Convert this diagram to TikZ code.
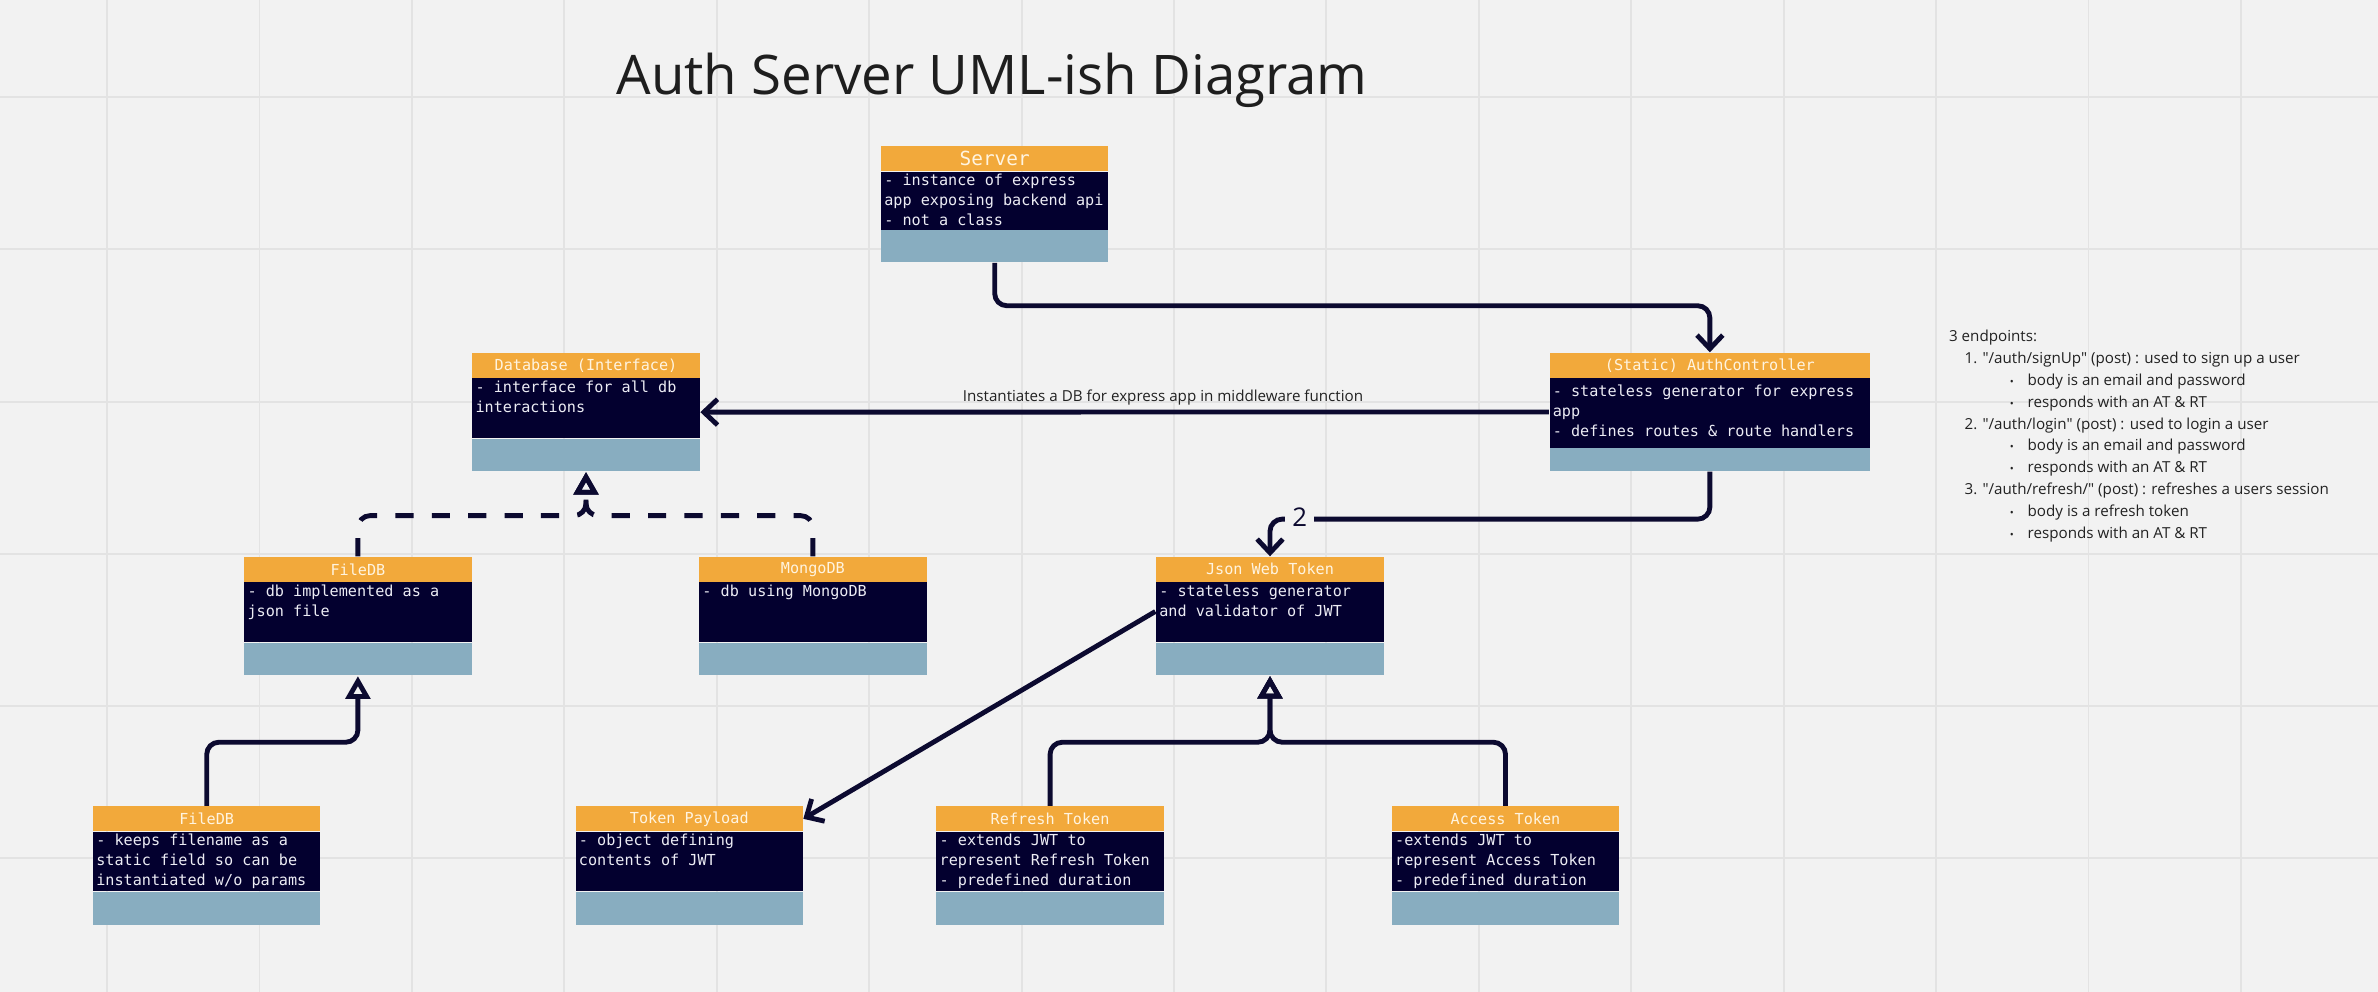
\documentclass[tikz,border=0pt]{standalone}
\usepackage{fontspec}
\setmainfont{Open Sans}
\newfontfamily\epfont{Open Sans}
\newfontfamily\monof{DejaVu Sans Mono}
\usetikzlibrary{arrows.meta,calc,fit}
\definecolor{bgc}{HTML}{F2F2F2}
\definecolor{gridc}{HTML}{E3E3E3}
\definecolor{hdc}{HTML}{F2A93B}
\definecolor{bdc}{HTML}{03002F}
\definecolor{ftc}{HTML}{88ADC0}
\definecolor{lnc}{HTML}{0C0A30}
\definecolor{hdtext}{HTML}{FFF4E0}
\definecolor{bdtext}{HTML}{ECECF4}
\definecolor{txtc}{HTML}{222222}
\definecolor{titc}{HTML}{1E1E1E}
\tikzset{
  hd/.style={fill=hdc, inner sep=0pt, text=hdtext, font=\monof\fontsize{10}{12}\selectfont, anchor=north west, minimum height=16.4pt},
  bd/.style={fill=bdc, inner sep=0pt, anchor=north west},
  ft/.style={fill=ftc, inner sep=0pt, anchor=north west},
  btxt/.style={inner sep=0pt, anchor=north west, align=left, text=bdtext, font=\monof\fontsize{10}{13.2}\selectfont},
  conn/.style={draw=lnc, line width=3.2pt, rounded corners=8pt},
  barb/.style={-{Straight Barb[length=9pt,width=17pt]}},
  tri/.style={-{Triangle[open,length=15pt,width=16pt]}},
  gridl/.style={draw=gridc, line width=1.3pt},
  plain/.style={inner sep=0pt, text=txtc}
}
% #1 name, #2 left, #3 top, #4 width, #5 body h, #6 footer h, #7 text offset, #8 title, #9 body
\newcommand\umlbox[9]{%
  \node[hd, minimum width=#4pt] (#1-h) at (#2,#3) {#8};
  \node[bd, minimum width=#4pt, minimum height=#5pt] (#1-b) at (#1-h.south west) {};
  \node[ft, minimum width=#4pt, minimum height=#6pt] (#1-f) at (#1-b.south west) {};
  \node[btxt] (#1-t) at ($(#1-b.north west)+(2.2,#7)$) {\strut #9};
  \node[fit=(#1-h)(#1-f), inner sep=0pt] (#1) {};
}
\newcommand\mybul{\makebox[11.8pt][l]{\fontsize{7}{7}\selectfont •}}
\begin{document}
\begin{tikzpicture}[x=1pt,y=-1pt]
\useasboundingbox (0,0) rectangle (1568,654);
\fill[bgc] (0,0) rectangle (1568,654);
\foreach \i in {0,...,14} \draw[gridl] ({70.6+100.5*\i},0) -- ({70.6+100.5*\i},654);
\foreach \j in {0,...,5} \draw[gridl] (0,{64+100.4*\j}) -- (1568,{64+100.4*\j});

\node[anchor=base west, inner sep=0pt, font=\fontsize{36}{36}\selectfont, text=titc] (title) at (406.3,62.6) {Auth Server UML-ish Diagram};

\umlbox{srv}{580.7}{96.3}{150}{38.2}{21}{0}{{\fontsize{12.8}{14}\selectfont Server}}{- instance of express\\app exposing backend api\\- not a class}
\umlbox{db}{311.2}{232.5}{150}{39.6}{21.3}{0}{Database (Interface)}{- interface for all db\\interactions}
\umlbox{ac}{1021.5}{232.5}{211.5}{45.7}{15}{3}{(Static) AuthController}{- stateless generator for express\\app\\- defines routes \& route handlers}
\umlbox{fm}{160.8}{367}{150}{39.6}{21.4}{0}{FileDB}{- db implemented as a\\json file}
\umlbox{mg}{460.8}{367}{150}{39.6}{21.4}{0}{MongoDB}{- db using MongoDB}
\umlbox{jwt}{762}{367}{150.4}{39.6}{21.2}{0}{Json Web Token}{- stateless generator\\and validator of JWT}
\umlbox{fb}{61.1}{531.5}{150}{39.3}{21.5}{0}{FileDB}{- keeps filename as a\\static field so can be\\instantiated w/o params}
\umlbox{tp}{379.3}{531.5}{150}{39.3}{21.5}{0}{Token Payload}{- object defining\\contents of JWT}
\umlbox{rt}{617.2}{531.5}{150}{39.3}{21.5}{0}{Refresh Token}{- extends JWT to\\represent Refresh Token\\- predefined duration}
\umlbox{at}{917.5}{531.5}{150}{39.3}{21.5}{0}{Access Token}{-extends JWT to\\represent Access Token\\- predefined duration}

% junction coordinates
\coordinate (sa) at ($(ac.north)+(0,-30.7)$);
\coordinate (aj) at ($(ac.south)+(0,31.3)$);
\coordinate (dj) at ($(db.south)+(0,28.8)$);
\coordinate (fj) at ($(fm.south)+(0,43.6)$);
\coordinate (jj) at ($(jwt.south)+(0,43.8)$);

% connectors
\draw[conn, barb] (srv.south) |- (sa) -- (ac.north);
\draw[conn, barb] (ac.west) -- (db.east);
\draw[conn, barb] (ac.south) |- (jwt.north |- aj) -- (jwt.north);
\node[fill=bgc, inner sep=4.7pt, font=\fontsize{17}{17}\selectfont, text=lnc] (two) at (857,340.7) {2};
\draw[conn, barb] ($(jwt.west)+(0,-3)$) -- (tp-h.east);
\draw[conn, tri, dash pattern=on 12pt off 12pt] (fm.north) |- (dj) -- (db.south);
\draw[conn, tri, dash pattern=on 12pt off 12pt] (mg.north) |- (dj) -- (db.south);
\draw[conn, tri] (fb.north) |- (fj) -- (fm.south);
\draw[conn, tri] (rt.north) |- (jj) -- (jwt.south);
\draw[conn, tri] (at.north) |- (jj) -- (jwt.south);

\node[anchor=base west, plain, font=\fontsize{10}{12}\selectfont] (lbl) at (634.7,264.8) {Instantiates a DB for express app in middleware function};

\node[anchor=north west, plain, align=left, font=\epfont\fontsize{10}{14.4}\selectfont] (ep) at (1285,215) {\strut 3 endpoints:\\
\hspace*{10.2pt}1. "/auth/signUp" (post) : used to sign up a user\\
\hspace*{40pt}\mybul body is an email and password\\
\hspace*{40pt}\mybul responds with an AT \& RT\\
\hspace*{10.2pt}2. "/auth/login" (post) : used to login a user\\
\hspace*{40pt}\mybul body is an email and password\\
\hspace*{40pt}\mybul responds with an AT \& RT\\
\hspace*{10.2pt}3. "/auth/refresh/" (post) : refreshes a users session\\
\hspace*{40pt}\mybul body is a refresh token\\
\hspace*{40pt}\mybul responds with an AT \& RT};
\end{tikzpicture}
\end{document}
